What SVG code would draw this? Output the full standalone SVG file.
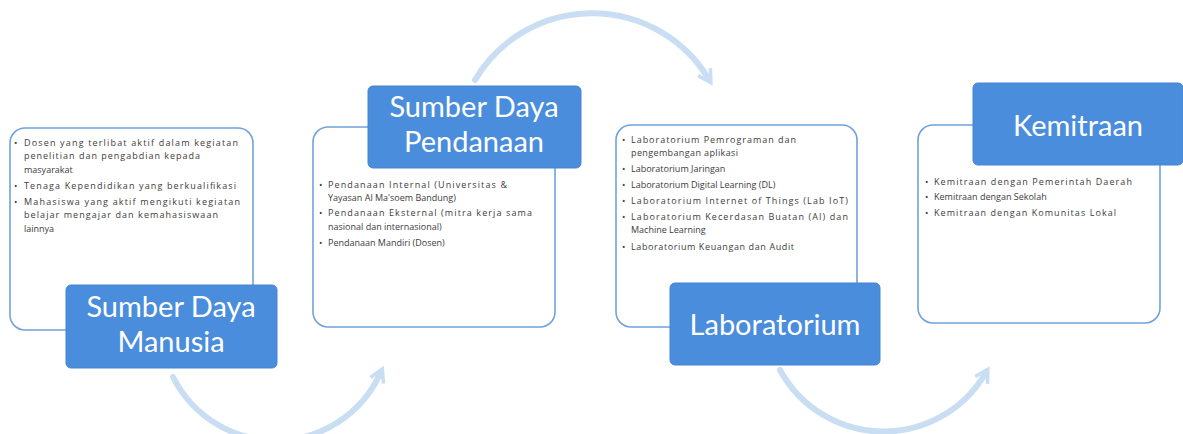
<svg xmlns="http://www.w3.org/2000/svg" width="1183" height="434" viewBox="0 0 1183 434">
<defs>
<marker id="ah" viewBox="0 0 10 10" refX="5" refY="5" markerWidth="3" markerHeight="3" orient="auto" markerUnits="strokeWidth">
<path d="M1,1 L8,5 L1,9" fill="none" stroke="#c9def2" stroke-width="2"/>
</marker>
<style>
.card{fill:#ffffff;stroke:#6ea3dc;stroke-width:1.6}
.lbl{fill:#4a8ddc;stroke:#4585d3;stroke-width:1}
.lt{font-family:Lato,"Open Sans",sans-serif;font-size:29px;fill:#ffffff;text-anchor:middle}
.bt{font-family:"Open Sans","Liberation Sans",sans-serif;font-size:9px;fill:#3c3c3c}
.arc{fill:none;stroke:#c9def2;stroke-width:6;stroke-linecap:round}
</style>
</defs>
<rect width="1183" height="434" fill="#ffffff"/>
<g id="connectors">
<path class="arc" d="M173,377 A 115 115 0 0 0 380,374" marker-end="url(#ah)"/>
<path class="arc" d="M475,80 A 136 136 0 0 1 708,78" marker-end="url(#ah)"/>
<path class="arc" d="M780,370 A 118 118 0 0 0 985,374" marker-end="url(#ah)"/>
</g>
<g id="node-sdm">
<rect class="card" x="10" y="128" width="243" height="202" rx="15"/>
<text class="bt" x="14" y="146">•</text>
<text class="bt" x="24" y="146" textLength="214" lengthAdjust="spacing">Dosen yang terlibat aktif dalam kegiatan</text>
<text class="bt" x="24" y="159" textLength="176" lengthAdjust="spacing">penelitian dan pengabdian kepada</text>
<text class="bt" x="24" y="173">masyarakat</text>
<text class="bt" x="14" y="189">•</text>
<text class="bt" x="24" y="189" textLength="212" lengthAdjust="spacing">Tenaga Kependidikan yang berkualifikasi</text>
<text class="bt" x="14" y="205">•</text>
<text class="bt" x="24" y="205" textLength="216" lengthAdjust="spacing">Mahasiswa yang aktif mengikuti kegiatan</text>
<text class="bt" x="24" y="218" textLength="194" lengthAdjust="spacing">belajar mengajar dan kemahasiswaan</text>
<text class="bt" x="24" y="232">lainnya</text>
<rect class="lbl" x="66" y="285" width="211" height="83" rx="5"/>
<text class="lt" x="171" y="317">Sumber Daya</text>
<text class="lt" x="171" y="352">Manusia</text>
</g>
<g id="node-pendanaan">
<rect class="card" x="313" y="127" width="242" height="200" rx="15"/>
<rect class="lbl" x="368" y="86" width="213" height="82" rx="5"/>
<text class="lt" x="474" y="117">Sumber Daya</text>
<text class="lt" x="474" y="152">Pendanaan</text>
<text class="bt" x="319" y="188">•</text>
<text class="bt" x="328" y="188" textLength="179" lengthAdjust="spacing">Pendanaan Internal (Universitas &amp;</text>
<text class="bt" x="328" y="201">Yayasan Al Ma'soem Bandung)</text>
<text class="bt" x="319" y="216">•</text>
<text class="bt" x="328" y="216" textLength="204" lengthAdjust="spacing">Pendanaan Eksternal (mitra kerja sama</text>
<text class="bt" x="328" y="230">nasional dan internasional)</text>
<text class="bt" x="319" y="246">•</text>
<text class="bt" x="328" y="246">Pendanaan Mandiri (Dosen)</text>
</g>
<g id="node-lab">
<rect class="card" x="616" y="125" width="241" height="202" rx="15"/>
<text class="bt" x="622" y="143">•</text>
<text class="bt" x="631" y="143" textLength="165" lengthAdjust="spacing">Laboratorium Pemrograman dan</text>
<text class="bt" x="631" y="156" textLength="107" lengthAdjust="spacing">pengembangan aplikasi</text>
<text class="bt" x="622" y="172">•</text>
<text class="bt" x="631" y="172">Laboratorium Jaringan</text>
<text class="bt" x="622" y="188">•</text>
<text class="bt" x="631" y="188">Laboratorium Digital Learning (DL)</text>
<text class="bt" x="622" y="204">•</text>
<text class="bt" x="631" y="204" textLength="217" lengthAdjust="spacing">Laboratorium Internet of Things (Lab IoT)</text>
<text class="bt" x="622" y="220">•</text>
<text class="bt" x="631" y="220" textLength="217" lengthAdjust="spacing">Laboratorium Kecerdasan Buatan (AI) dan</text>
<text class="bt" x="631" y="233">Machine Learning</text>
<text class="bt" x="622" y="250">•</text>
<text class="bt" x="631" y="250" textLength="163" lengthAdjust="spacing">Laboratorium Keuangan dan Audit</text>
<rect class="lbl" x="670" y="283" width="210" height="82" rx="5"/>
<text class="lt" x="775" y="335">Laboratorium</text>
</g>
<g id="node-kemitraan">
<rect class="card" x="918" y="125" width="242" height="198" rx="15"/>
<rect class="lbl" x="973" y="83" width="210" height="82" rx="5"/>
<text class="lt" x="1078" y="136">Kemitraan</text>
<text class="bt" x="925" y="185">•</text>
<text class="bt" x="934" y="185" textLength="198" lengthAdjust="spacing">Kemitraan dengan Pemerintah Daerah</text>
<text class="bt" x="925" y="200">•</text>
<text class="bt" x="934" y="200">Kemitraan dengan Sekolah</text>
<text class="bt" x="925" y="216">•</text>
<text class="bt" x="934" y="216" textLength="182" lengthAdjust="spacing">Kemitraan dengan Komunitas Lokal</text>
</g>
</svg>
